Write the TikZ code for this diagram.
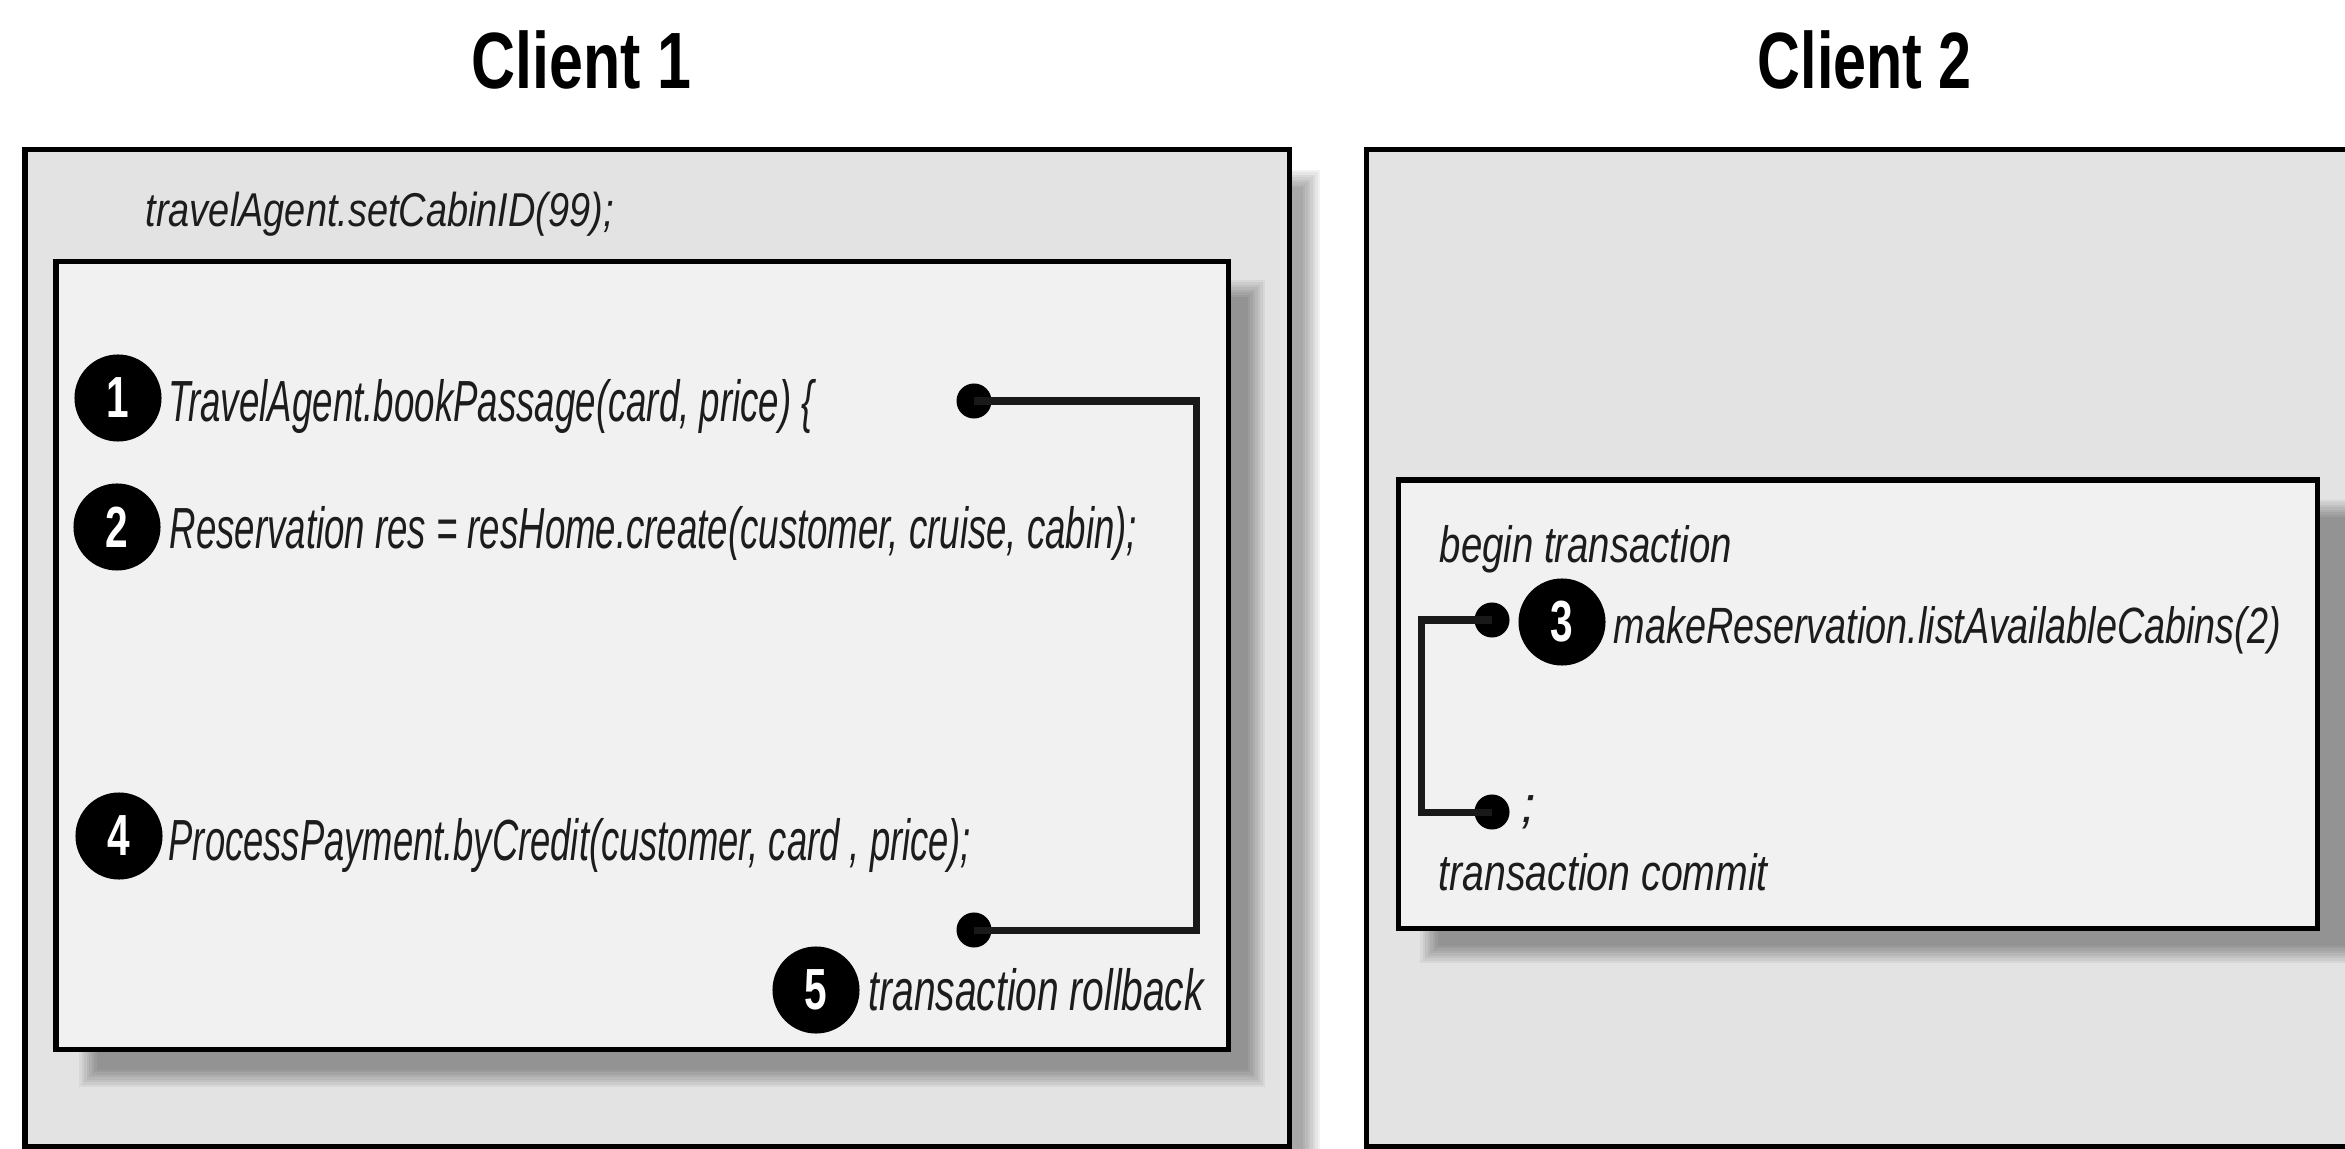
\documentclass[tikz,border=0pt]{standalone}
\usepackage{fontspec}
\usepackage{graphicx}
\setmainfont{Liberation Sans}
\definecolor{outerfill}{RGB}{227,227,227}
\definecolor{innerfill}{RGB}{241,241,241}
\definecolor{ink}{RGB}{28,28,28}
\newcommand{\fitw}[2]{\resizebox{#1}{\height}{#2}}
\newcommand{\boxshadow}[4]{%
  \foreach \k in {0,...,7}{%
    \fill[black,opacity=0.05] ({#1+2.5*\k},{#2+2.5*\k}) rectangle ({#3-2.5*\k},{#4-2.5*\k});}}
\begin{document}
\begin{tikzpicture}[x=0.01cm, y=-0.01cm,
  outerbox/.style={draw=black, line width=0.05cm, fill=outerfill},
  innerbox/.style={draw=black, line width=0.05cm, fill=innerfill},
  title/.style={anchor=base west, inner sep=0, text=black, font=\bfseries\fontsize{22.7pt}{26pt}\selectfont},
  codebig/.style={anchor=base west, inner sep=0, text=ink, font=\itshape\fontsize{16.5pt}{19pt}\selectfont},
  codemid/.style={anchor=base west, inner sep=0, text=ink, font=\itshape\fontsize{14.5pt}{17pt}\selectfont},
  codesmall/.style={anchor=base west, inner sep=0, text=ink, font=\itshape\fontsize{13.5pt}{16pt}\selectfont},
  numcirc/.style={circle, fill=black, minimum size=0.87cm, inner sep=0, text=white, font=\bfseries\fontsize{16.5pt}{19pt}\selectfont},
  dotnode/.style={circle, fill=black, minimum size=0.35cm, inner sep=0},
  conn/.style={draw=black!90, line width=0.07cm, line cap=butt, line join=miter}]
\path[use as bounding box] (0,0) rectangle (2345,1149);
\clip (0,0) rectangle (2345,1149);

% titles
\node[title] (t1) at (471,89) {\fitw{2.20cm}{Client 1}};
\node[title] (t2) at (1757,89) {\fitw{2.14cm}{Client 2}};

% outer boxes with shadows
\boxshadow{50}{170}{1320}{1180}
\draw[outerbox] (25,149.5) rectangle (1289,1146);
\boxshadow{1391}{170}{2420}{1180}
\draw[outerbox] (1366,149.5) rectangle (2420,1146);

% Client 1
\node[codesmall] (setcab) at (145,227) {\fitw{4.68cm}{travelAgent.setCabinID(99);}};
\boxshadow{79}{280}{1265}{1087}
\draw[innerbox] (56,262) rectangle (1228,1049);

\node[numcirc] (n1) at (118,398) {\scalebox{0.7}[1]{1}};
\node[codebig] (l1) at (168,422) {\fitw{6.45cm}{TravelAgent.bookPassage(card, price) \{}};
\node[numcirc] (n2) at (117,527) {\scalebox{0.7}[1]{2}};
\node[codebig] (l2) at (169,548) {\fitw{9.67cm}{Reservation res = resHome.create(customer, cruise, cabin);}};
\node[numcirc] (n4) at (119,836) {\scalebox{0.7}[1]{4}};
\node[codebig] (l4) at (168,860) {\fitw{8.02cm}{ProcessPayment.byCredit(customer, card , price);}};
\node[numcirc] (n5) at (816,990) {\scalebox{0.7}[1]{5}};
\node[codebig] (l5) at (868,1010) {\fitw{3.35cm}{transaction rollback}};

\node[dotnode] (d1) at (974,401) {};
\node[dotnode] (d2) at (974,930) {};
\coordinate (c1) at (1196,665);
\draw[conn] (d1.center) -| (c1) |- (d2.center);

% Client 2
\boxshadow{1420}{500}{2380}{963}
\draw[innerbox] (1398,480) rectangle (2317,928);
\node[codemid] (b2) at (1439,562) {\fitw{2.92cm}{begin transaction}};
\node[numcirc] (n3) at (1562,622) {\scalebox{0.7}[1]{3}};
\node[codemid] (l3) at (1613,643) {\fitw{6.67cm}{makeReservation.listAvailableCabins(2)}};
\node[dotnode] (d3) at (1492,620) {};
\node[dotnode] (d4) at (1492,812) {};
\node[codemid] (semi) at (1521,822) {;};
\node[codemid] (cm) at (1438,890) {\fitw{3.29cm}{transaction commit}};
\coordinate (c2) at (1421,716);
\draw[conn] (d3.center) -| (c2) |- (d4.center);
\end{tikzpicture}
\end{document}
